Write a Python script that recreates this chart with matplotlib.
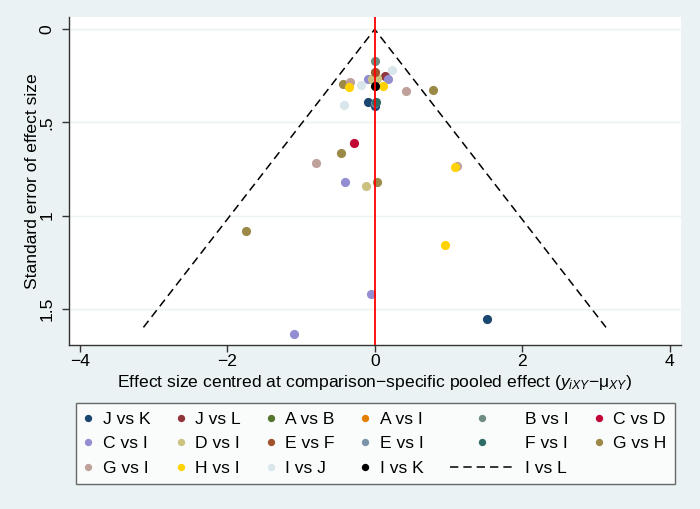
import matplotlib
matplotlib.use('Agg')
import matplotlib.pyplot as plt
from matplotlib.legend_handler import HandlerLine2D
import numpy as np

plt.rcParams['font.family'] = ['Liberation Sans', 'DejaVu Sans']
plt.rcParams['mathtext.fontset'] = 'custom'
plt.rcParams['mathtext.rm'] = 'Liberation Sans'
plt.rcParams['mathtext.it'] = 'Liberation Sans:italic'
plt.rcParams['lines.scale_dashes'] = False

# ---------------- data ----------------
series_names = ['J vs K', 'J vs L', 'A vs B', 'A vs I', 'B vs I', 'C vs D',
                'C vs I', 'D vs I', 'E vs F', 'E vs I', 'F vs I', 'G vs H',
                'G vs I', 'H vs I', 'I vs J', 'I vs K']
series_colors = ['#1a476f', '#90353b', '#55752f', '#e37e00', '#6e8e84', '#c10534',
                 '#938dd2', '#cac27e', '#a0522d', '#7b92a8', '#2d6d66', '#9c8847',
                 '#bfa19c', '#ffd200', '#d9e6eb', '#000000']
series_x = [
    [-0.086, 0.0, 1.523],                       # J vs K
    [0.14],                                     # J vs L
    [0.0],                                      # A vs B
    [0.02],                                     # A vs I
    [0.0],                                      # B vs I
    [-0.28],                                    # C vs D
    [-0.086, 0.185, -0.40, -0.05, -1.10],       # C vs I
    [-0.036, 0.03, -0.118],                     # D vs I
    [0.0],                                      # E vs F
    [0.0],                                      # E vs I
    [0.018],                                    # F vs I
    [-0.43, 0.787, -0.456, 0.025, -1.74],       # G vs H
    [-0.335, 0.425, -0.80, 1.11],               # G vs I
    [-0.35, 0.108, 1.093, 0.958],               # H vs I
    [-0.19, 0.235, -0.41],                      # I vs J
    [0.0],                                      # I vs K
]
series_y = [
    [0.392, 0.41, 1.553],
    [0.25],
    [0.262],
    [0.265],
    [0.168],
    [0.608],
    [0.267, 0.267, 0.819, 1.419, 1.633],
    [0.265, 0.262, 0.841],
    [0.227],
    [0.395],
    [0.388],
    [0.296, 0.325, 0.664, 0.819, 1.084],
    [0.285, 0.331, 0.716, 0.735],
    [0.308, 0.304, 0.737, 1.159],
    [0.298, 0.221, 0.408],
    [0.305],
]
funnel_label = 'I vs L'
funnel_se_max = 1.6
x_ticks = [-4, -2, 0, 2, 4]
x_ticklabels = ['\u22124', '\u22122', '0', '2', '4']
y_ticks = [0, 0.5, 1, 1.5]
y_ticklabels = ['0', '.5', '1', '1.5']

# ---------------- figure ----------------
BG = '#eaf2f3'
FS = 12.6
fig = plt.figure(figsize=(7, 5.09), dpi=100, facecolor=BG)
ax = fig.add_axes([69 / 700, 1 - 345 / 509, (681 - 69) / 700, (345 - 17.3) / 509])
ax.set_facecolor('white')

handles = []
for name, c, xs, ys in zip(series_names, series_colors, series_x, series_y):
    h, = ax.plot(xs, ys, 'o', ls='none', color=c, ms=6.6, mew=0, zorder=3, label=name)
    handles.append(h)

fx = [-1.96 * funnel_se_max, 0, 1.96 * funnel_se_max]
fy = [funnel_se_max, 0, funnel_se_max]
funnel, = ax.plot(fx, fy, color='black', lw=1.1, ls=(0, (6.0, 3.6)), zorder=2, label=funnel_label)
ax.axvline(0, color='#ff0000', lw=1.3, zorder=4)

ax.set_xlim(-4.145, 4.153)
ax.set_ylim(1.6946, -0.0644)
ax.set_xticks(x_ticks)
ax.set_xticklabels(x_ticklabels)
ax.set_yticks(y_ticks)
ax.set_yticklabels(y_ticklabels, rotation=90, va='center')
ax.grid(axis='y', color=BG, lw=1.0)
ax.grid(axis='x', visible=False)
ax.set_axisbelow(True)
for s in ['top', 'right']:
    ax.spines[s].set_visible(False)
for s in ['left', 'bottom']:
    ax.spines[s].set_color('#333333')
    ax.spines[s].set_linewidth(1.0)
ax.tick_params(direction='out', length=5.3, width=1.0, color='#333333', labelsize=FS)
ax.tick_params(axis='x', pad=1.5)
ax.tick_params(axis='y', pad=5)

ax.set_xlabel('Effect size centred at comparison\u2212specific pooled effect ($y_{iXY}$\u2212\u03bc$_{XY}$)',
              fontsize=FS, labelpad=2.5)
ax.set_ylabel('Standard error of effect size', fontsize=FS, labelpad=0)


class WideHandler(HandlerLine2D):
    def __init__(self, width_pt, **kw):
        super().__init__(**kw)
        self.width_pt = width_pt

    def legend_artist(self, legend, orig_handle, fontsize, handlebox):
        handlebox.width = self.width_pt
        return super().legend_artist(legend, orig_handle, fontsize, handlebox)


all_handles = handles + [funnel]
all_labels = series_names + [funnel_label]
ncol = 6
nrow = 3
order = []
for c in range(ncol):
    for r in range(nrow):
        i = r * ncol + c
        if i < len(all_handles):
            order.append(i)

wide = WideHandler(46.8)
hmap = {handles[4]: wide, handles[10]: wide, funnel: wide}
leg = fig.legend([all_handles[i] for i in order], [all_labels[i] for i in order],
                 ncol=ncol, loc='upper center', bbox_to_anchor=(375.5 / 700, 1 - 403 / 509),
                 frameon=True, fancybox=False, edgecolor='#444444', facecolor='white',
                 fontsize=FS, handlelength=0.45, handletextpad=0.6, columnspacing=1.5,
                 labelspacing=0.52, borderpad=0.5, borderaxespad=0, markerscale=0.8,
                 numpoints=1, handler_map=hmap)
leg.get_frame().set_linewidth(1.0)

fig.savefig('out.png', dpi=100, facecolor=BG)
